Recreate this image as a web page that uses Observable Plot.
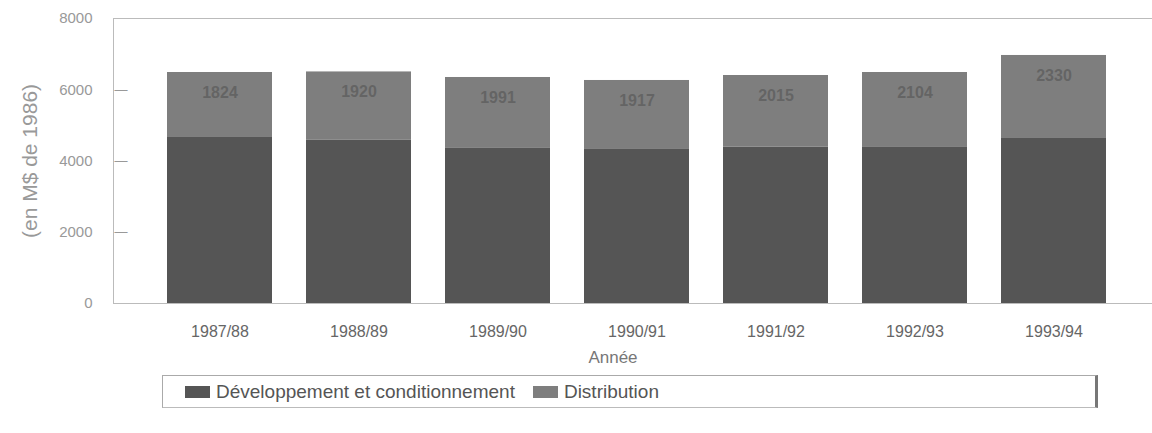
<!DOCTYPE html>
<html>
<head>
<meta charset="utf-8">
<script src="https://cdn.jsdelivr.net/npm/d3@7"></script>
<script src="https://cdn.jsdelivr.net/npm/@observablehq/plot@0.6"></script>
<style>
  html, body { margin: 0; padding: 0; background: #fff; }
  body { font-family: "Liberation Sans", Arial, sans-serif; width: 1152px; height: 433px; position: relative; overflow: hidden; }
  #legend {
    position: absolute; left: 162px; top: 375px; width: 932px; height: 31px;
    border: 1px solid #aaa; border-right: 3px solid #777; border-bottom: 1px solid #bbb;
    display: flex; align-items: center; font-size: 19px; color: #555;
  }
  .sw { display: inline-block; width: 25px; height: 12px; margin-right: 6px; }
  .item { display: flex; align-items: center; }
</style>
</head>
<body>
<div id="chart"></div>
<div id="legend"></div>
<script>
const years = ["1987/88", "1988/89", "1989/90", "1990/91", "1991/92", "1992/93", "1993/94"];
const developpement = [4660, 4580, 4353, 4343, 4385, 4380, 4632];
const distribution = [1824, 1920, 1991, 1917, 2015, 2104, 2330];
const categories = ["Développement et conditionnement", "Distribution"];
const colors = ["#555555", "#7e7e7e"];
const yTicks = [0, 2000, 4000, 6000, 8000];
const yLabel = "(en M$ de 1986)";
const xLabel = "Année";

const rows = [];
years.forEach((y, i) => {
  rows.push({year: y, cat: categories[0], value: developpement[i]});
  rows.push({year: y, cat: categories[1], value: distribution[i]});
});
const labels = years.map((y, i) => ({year: y, total: developpement[i] + distribution[i], text: String(distribution[i])}));

const chart = Plot.plot({
  width: 1152,
  height: 370,
  marginLeft: 113,
  marginRight: 0,
  marginTop: 18,
  marginBottom: 67,
  style: {fontFamily: "'Liberation Sans', Arial, sans-serif", fontSize: "15px", color: "#777", background: "#fff"},
  x: {domain: years, range: [113, 1160], paddingInner: 0.243, paddingOuter: 0.364, label: null},
  y: {domain: [0, 8000], label: null},
  color: {domain: categories, range: colors},
  marks: [
    Plot.frame({stroke: "#bbb"}),
    Plot.barY(rows, {x: "year", y: "value", fill: "cat"}),
    Plot.text(labels, {x: "year", y: "total", text: "text", dy: 20, fill: "#4a4a4a", fontSize: 16, fontWeight: "bold", fillOpacity: 0.5}),
    Plot.axisY({ticks: yTicks, tickSize: 0, tickPadding: 21, tickFormat: d => String(d), fill: "#999", label: null, fontSize: 15}),
    Plot.text(yTicks.slice(1, 4), {y: d => d, frameAnchor: "left", text: () => "\u2014", textAnchor: "start", dx: 1, fill: "#999", fontSize: 13}),
    Plot.text([yLabel], {frameAnchor: "left", text: d => d, rotate: -90, textAnchor: "middle", dx: -83, fill: "#999", fontSize: 21}),
    Plot.axisX({tickSize: 0, tickPadding: 22, fill: "#666", fontSize: 16, label: null}),
    Plot.text([xLabel], {frameAnchor: "bottom", text: d => d, dx: -20, dy: 59, fill: "#777", fontSize: 17}),
  ]
});
document.getElementById("chart").appendChild(chart);

const legend = document.getElementById("legend");
legend.innerHTML = categories.map((c, i) =>
  `<span class="item" style="margin-left:${i === 0 ? 22 : 18}px"><span class="sw" style="background:${colors[i]}"></span>${c}</span>`
).join("");
</script>
</body>
</html>
